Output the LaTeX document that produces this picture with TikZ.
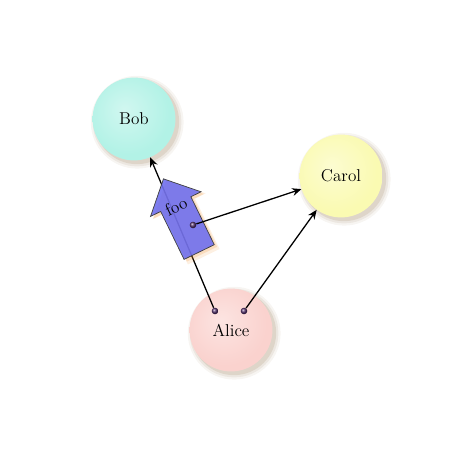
\documentclass[tikz,border=0pt]{standalone}
\usetikzlibrary{shapes.arrows,shadows,arrows.meta}
\definecolor{bobc}{RGB}{178,242,230}
\definecolor{bobd}{RGB}{120,185,175}
\definecolor{carolc}{RGB}{250,250,178}
\definecolor{carold}{RGB}{195,195,120}
\definecolor{alicec}{RGB}{250,210,206}
\definecolor{aliced}{RGB}{195,150,148}
\definecolor{shadowc}{RGB}{140,110,70}
\definecolor{arrowc}{RGB}{112,112,238}
\definecolor{dotc}{RGB}{85,50,110}
\pgfdeclareradialshading{bobshade}{\pgfpoint{-6bp}{6bp}}{color(0bp)=(bobc!60!white); color(25bp)=(bobc); color(42bp)=(bobc); color(52bp)=(bobd); color(60bp)=(bobd!75!black)}
\pgfdeclareradialshading{carolshade}{\pgfpoint{-6bp}{6bp}}{color(0bp)=(carolc!60!white); color(25bp)=(carolc); color(42bp)=(carolc); color(52bp)=(carold); color(60bp)=(carold!75!black)}
\pgfdeclareradialshading{aliceshade}{\pgfpoint{-6bp}{6bp}}{color(0bp)=(alicec!60!white); color(25bp)=(alicec); color(42bp)=(alicec); color(52bp)=(aliced); color(60bp)=(aliced!75!black)}
\tikzset{
  softshadow/.style={
    general shadow={shadow xshift=2pt, shadow yshift=-2pt, shadow scale=1.12, fill=shadowc, opacity=0.07},
    general shadow={shadow xshift=2pt, shadow yshift=-2pt, shadow scale=1.07, fill=shadowc, opacity=0.1},
    general shadow={shadow xshift=2pt, shadow yshift=-2pt, shadow scale=1.02, fill=shadowc, opacity=0.15}},
  person/.style={circle, minimum size=58pt, inner sep=0pt, softshadow,
    font=\fontsize{12}{14}\selectfont},
  dotnode/.style={circle, minimum size=4.6pt, inner sep=0pt, ball color=dotc},
  edge/.style={line width=0.9pt, -{Stealth[length=6.5pt,width=5.5pt]}},
  fooarrow/.style={single arrow, minimum height=57pt, inner xsep=0pt, inner ysep=11.5pt,
    single arrow head extend=7.9pt, draw=black!75, line width=0.5pt,
    fill=arrowc, fill opacity=0.9,
    general shadow={shadow xshift=2.5pt, shadow yshift=-2pt, shadow scale=1.05, fill=orange!70!brown, opacity=0.12},
    general shadow={shadow xshift=2pt, shadow yshift=-1.5pt, fill=orange!70!brown, opacity=0.18}},
}
\begin{document}
\begin{tikzpicture}[x=0.7pt, y=-0.7pt]
\useasboundingbox (0,0) rectangle (473,453);
\node[person, shading=bobshade] (bob) at (134,119) {Bob};
\node[person, shading=carolshade] (carol) at (341,176) {Carol};
\node[person, shading=aliceshade] (alice) at (231,330) {Alice};
\node[dotnode] (a1) at (215,311) {};
\node[dotnode] (a2) at (244,311) {};
\draw[edge] (a1) -- (bob);
\draw[edge] (a2) -- (carol);
\node[fooarrow, rotate=116] (foo) at (185,223) {};
\node[rotate=26, font=\fontsize{12}{13}\selectfont] (foolabel) at (176,206) {foo};
\node[dotnode] (f1) at (193,225) {};
\draw[edge] (f1) -- (carol);
\end{tikzpicture}
\end{document}
